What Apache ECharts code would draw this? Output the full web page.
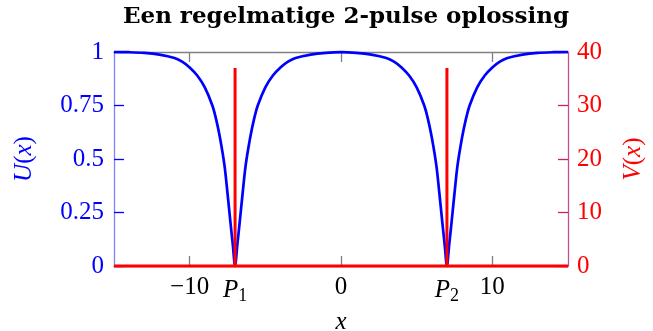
<!DOCTYPE html>
<html>
<head>
<meta charset="utf-8">
<script src="https://cdn.jsdelivr.net/npm/echarts@6/dist/echarts.min.js"></script>
<style>
  html, body { margin: 0; padding: 0; background: #ffffff; }
  #chart { width: 653px; height: 331px; }
</style>
</head>
<body>
<div id="chart"></div>
<script>
// Regular 2-pulse solution: smooth field U(x) (left axis) and pulse field V(x) (right axis)
const titleText = 'Een regelmatige 2-pulse oplossing';

// U(x) samples
const uX = [-15, -14, -13, -12, -11, -10.5, -10, -9.5, -9, -8.5, -8.25, -8, -7.7, -7.5, -7.3, -7.15, -7,
            -6.85, -6.7, -6.5, -6.3, -6, -5.75, -5.5, -5, -4.5, -4, -3.5, -3, -2, -1, 0,
            1, 2, 3, 3.5, 4, 4.5, 5, 5.5, 5.75, 6, 6.3, 6.5, 6.7, 6.85, 7,
            7.15, 7.3, 7.5, 7.7, 8, 8.25, 8.5, 9, 9.5, 10, 10.5, 11, 12, 13, 14, 15];
const uY = [1.0, 0.999, 0.996, 0.988, 0.972, 0.955, 0.928, 0.890, 0.835, 0.750, 0.685, 0.600, 0.470, 0.340, 0.200, 0.100, 0,
            0.100, 0.200, 0.340, 0.470, 0.600, 0.685, 0.750, 0.835, 0.890, 0.928, 0.955, 0.972, 0.988, 0.996, 0.999,
            0.996, 0.988, 0.972, 0.955, 0.928, 0.890, 0.835, 0.750, 0.685, 0.600, 0.470, 0.340, 0.200, 0.100, 0,
            0.100, 0.200, 0.340, 0.470, 0.600, 0.685, 0.750, 0.835, 0.890, 0.928, 0.955, 0.972, 0.988, 0.996, 0.999, 1.0];

// V(x): zero except for the two spikes at P1 and P2
const vX = [-15, -7, -7, -7, 7, 7, 7, 15];
const vY = [0, 0, 37, 0, 0, 37, 0, 0];

// Axis ticks and labels
const xTickValues = [-10, 0, 10];
const xLabelValues = [-10, -7, 0, 7, 10];
const xLabelTexts = ['−10', '{p|P}{s|1}', '0', '{p|P}{s|2}', '10'];
const uTickValues = [0, 0.25, 0.5, 0.75, 1];
const vTickValues = [0, 10, 20, 30, 40];

const serif = 'Liberation Serif';
const BLUE = '#0000ff';
const RED = '#ff0000';
const GREY = '#808080';

const zip = (xs, ys) => xs.map((x, i) => [x, ys[i]]);

const chart = echarts.init(document.getElementById('chart'), null, { renderer: 'canvas' });

const option = {
  animation: false,
  backgroundColor: '#ffffff',
  title: {
    text: titleText,
    left: 341,
    top: 1,
    textAlign: 'center',
    textStyle: { fontFamily: 'DejaVu Serif', fontWeight: 'bold', fontSize: 23, color: '#000000' }
  },
  grid: { left: 114, right: 85, top: 52, bottom: 65, containLabel: false, outerBoundsMode: 'none' },
  xAxis: [
    {
      type: 'value', min: -15, max: 15, position: 'bottom',
      axisLine: { show: true, onZero: false, lineStyle: { color: GREY, width: 1.3 } },
      axisTick: { show: true, inside: true, length: 10, customValues: xTickValues, lineStyle: { color: GREY, width: 1.3 } },
      axisLabel: {
        customValues: xLabelValues,
        margin: 9,
        color: '#000000', fontFamily: serif, fontSize: 25,
        formatter: v => xLabelTexts[xLabelValues.indexOf(v)],
        rich: {
          p: { fontFamily: serif, fontStyle: 'italic', fontSize: 25, lineHeight: 30, color: '#000000' },
          s: { fontFamily: serif, fontSize: 18, lineHeight: 17, verticalAlign: 'bottom', color: '#000000' }
        }
      },
      splitLine: { show: false },
      name: 'x', nameLocation: 'middle', nameGap: 32,
      nameTextStyle: { fontFamily: serif, fontStyle: 'italic', fontSize: 25, color: '#000000' }
    },
    {
      type: 'value', min: -15, max: 15, position: 'top',
      axisLine: { show: true, onZero: false, lineStyle: { color: GREY, width: 1.3 } },
      axisTick: { show: true, inside: true, length: 10, customValues: xTickValues, lineStyle: { color: GREY, width: 1.3 } },
      axisLabel: { show: false },
      splitLine: { show: false }
    }
  ],
  yAxis: [
    {
      type: 'value', min: 0, max: 1, interval: 0.25, position: 'left',
      axisLine: { show: true, onZero: false, lineStyle: { color: '#8080ff', width: 1.3 } },
      axisTick: { show: true, inside: true, length: 10, lineStyle: { color: BLUE, width: 1.3 } },
      axisLabel: { margin: 10, color: BLUE, fontFamily: serif, fontSize: 25,
                   formatter: v => String(uTickValues[uTickValues.indexOf(v)]) },
      splitLine: { show: false },
      name: '{i|U}({i|x})', nameLocation: 'middle', nameRotate: 90, nameGap: 77,
      nameTextStyle: {
        fontFamily: serif, fontSize: 25, color: BLUE,
        rich: { i: { fontFamily: serif, fontStyle: 'italic', fontSize: 25, color: BLUE } }
      }
    },
    {
      type: 'value', min: 0, max: 40, interval: 10, position: 'right',
      axisLine: { show: true, onZero: false, lineStyle: { color: '#c0508f', width: 1.3 } },
      axisTick: { show: true, inside: true, length: 10, lineStyle: { color: '#d0206a', width: 1.3 } },
      axisLabel: { margin: 9, color: RED, fontFamily: serif, fontSize: 25,
                   formatter: v => String(vTickValues[vTickValues.indexOf(v)]) },
      splitLine: { show: false },
      name: '{i|V}({i|x})', nameLocation: 'middle', nameRotate: 90, nameGap: 53,
      nameTextStyle: {
        fontFamily: serif, fontSize: 25, color: RED,
        rich: { i: { fontFamily: serif, fontStyle: 'italic', fontSize: 25, color: RED } }
      }
    }
  ],
  series: [
    {
      name: 'U', type: 'line', xAxisIndex: 0, yAxisIndex: 0,
      data: zip(uX, uY), showSymbol: false, symbol: 'none', smooth: 0.3, clip: false,
      lineStyle: { color: BLUE, width: 2.7 }
    },
    {
      name: 'V', type: 'line', xAxisIndex: 0, yAxisIndex: 1,
      data: zip(vX, vY), showSymbol: false, symbol: 'none', smooth: false, clip: false,
      lineStyle: { color: RED, width: 3, join: 'miter' }
    }
  ]
};

chart.setOption(option);
</script>
</body>
</html>
